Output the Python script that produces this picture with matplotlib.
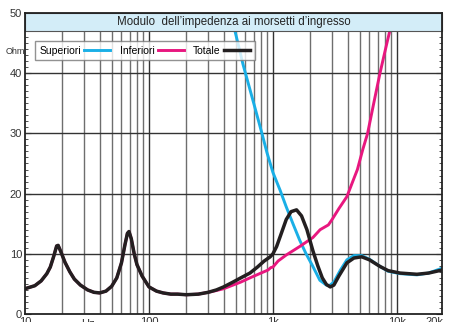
import matplotlib
matplotlib.use("Agg")
import matplotlib.pyplot as plt
from matplotlib.patches import Rectangle

# frequency (Hz) / impedance (Ohm)
freq_tot = [10, 12, 13.5, 15, 16, 17, 18, 18.5, 19.5, 21, 23, 25, 28, 32, 36, 40, 45, 50,
            55, 60, 64, 67, 69, 72, 76, 80, 88, 100, 115, 130, 150, 170, 200, 250, 300,
            350, 400, 476, 550, 652, 750, 850, 950, 1000, 1070, 1150, 1280, 1400, 1550,
            1700, 1880, 2100, 2300, 2500, 2700, 2900, 3100, 3400, 3950, 4500, 5200, 6000,
            7300, 8500, 10600, 14500, 18000, 23100]
imp_tot = [4.2, 4.7, 5.5, 6.7, 7.8, 9.5, 11.3, 11.4, 10.3, 8.6, 7.0, 5.8, 4.8, 4.0, 3.6, 3.5,
           3.8, 4.6, 6.0, 8.5, 11.5, 13.4, 13.7, 12.5, 10.0, 8.2, 6.3, 4.5, 3.8, 3.5, 3.3,
           3.3, 3.2, 3.3, 3.6, 4.0, 4.5, 5.3, 6.0, 6.8, 7.8, 8.8, 9.5, 10.0, 11.2, 13.0,
           15.7, 17.0, 17.3, 16.3, 14.0, 10.5, 8.0, 6.0, 4.9, 4.5, 4.8, 6.3, 8.5, 9.3, 9.5,
           9.0, 7.9, 7.2, 6.8, 6.6, 6.8, 7.3]

freq_inf = freq_tot[:35] + [350, 400, 476, 550, 652, 800, 912, 960, 1000, 1100, 1280, 1640,
                            2100, 2400, 2800, 3000, 3400, 3950, 4400, 4800, 5300, 5800,
                            6500, 7300, 8300, 8800, 9500]
imp_inf = imp_tot[:35] + [3.9, 4.2, 4.8, 5.3, 6.0, 6.8, 7.3, 7.7, 7.8, 8.8, 9.8, 11.2,
                          12.7, 14.0, 14.8, 15.7, 17.5, 19.5, 22.0, 24.0, 27.3, 30.0,
                          35.0, 40.0, 45.0, 47.2, 50.5]

freq_sup = [430, 494, 573, 700, 815, 895, 1000, 1140, 1280, 1450, 1640, 1850, 2100, 2390,
            2700, 2850, 3100, 3500, 3950, 4500, 5200, 6000, 7300, 8500, 10600, 14500,
            18000, 23100]
imp_sup = [52, 47, 41.5, 35, 30, 26.8, 23.5, 20.6, 17.8, 15, 12.3, 10, 7.9, 5.6, 4.8, 4.7,
           5.3, 7.3, 9.0, 9.7, 9.7, 9.1, 7.9, 7.1, 6.7, 6.5, 6.8, 7.6]

grid_minor = [20, 30, 40, 50, 60, 70, 80, 90, 200, 300, 400, 500, 600, 700, 800, 900,
              2000, 3000, 4000, 5000, 6000, 7000, 8000, 9000]
grid_major = [100, 1000, 10000]
xtick_pos = [10, 100, 1000, 10000, 20000]
xtick_lab = ["10", "100", "1k", "10k", "20k"]
ytick_pos = [0, 10, 20, 30, 40, 50]

plt.rcParams['font.family'] = ['Liberation Sans', 'DejaVu Sans']

fig = plt.figure(figsize=(4.59, 3.22), dpi=100)
ax = fig.add_axes([25 / 459, 8 / 322, 417 / 459, 301 / 322])
ax.set_xscale('log')
ax.set_xlim(10, 23100)
ax.set_ylim(0, 50)

for f in grid_minor:
    ax.axvline(f, color='#6e6e6e', lw=1.0, zorder=1)
for f in grid_major:
    ax.axvline(f, color='#333333', lw=1.0, zorder=1)
for v in [10, 20, 30, 40]:
    ax.axhline(v, color='#333333', lw=1.0, zorder=1)

ax.plot(freq_sup, imp_sup, color='#1aafe6', lw=2.1, label='Superiori', zorder=3,
        solid_joinstyle='round')
ax.plot(freq_inf, imp_inf, color='#e8177f', lw=2.1, label='Inferiori', zorder=3,
        solid_joinstyle='round')
ax.plot(freq_tot, imp_tot, color='#231f20', lw=2.5, label='Totale', zorder=4,
        solid_joinstyle='round')

# title band
ax.add_patch(Rectangle((0, 0.940), 1, 0.060, transform=ax.transAxes, facecolor='#d3edf8',
                       edgecolor='#555555', lw=0.8, zorder=6, clip_on=False))
ax.text(0.5, 0.970, "Modulo  dell\u2019impedenza ai morsetti d\u2019ingresso",
        transform=ax.transAxes, ha='center', va='center', fontsize=8.3, color='#222222',
        zorder=7)

leg = ax.legend(loc='upper left', bbox_to_anchor=(0.024, 0.907), borderaxespad=0,
                ncol=3, markerfirst=False, frameon=True, fancybox=False, fontsize=7.5,
                handlelength=2.5, handletextpad=0.3, columnspacing=0.9,
                borderpad=0.45, edgecolor='#777777')
leg.get_frame().set_linewidth(1.0)
leg.set_zorder(8)

ax.set_yticks(ytick_pos)
ax.set_yticks(range(0, 51), minor=True)
ax.set_xticks(xtick_pos)
ax.set_xticklabels(xtick_lab)
ax.xaxis.set_minor_locator(matplotlib.ticker.NullLocator())
ax.tick_params(axis='y', which='major', direction='in', length=4, width=0.8,
               labelsize=8, labelcolor='#333333', pad=2, right=True, color='#333333')
ax.tick_params(axis='y', which='minor', direction='in', length=2.5, width=0.6,
               right=True, color='#333333')
ax.tick_params(axis='x', which='major', length=0, labelsize=8, labelcolor='#333333',
               pad=2)
ax.text(32, -0.9, "Hz", ha='center', va='top', fontsize=8, color='#333333', clip_on=False)
fig.text(15 / 459, 1 - 51 / 322, "Ohm", ha='center', va='center', fontsize=6.5,
         color='#333333')

for s in ax.spines.values():
    s.set_color('#222222')
    s.set_linewidth(1.3)
    s.set_zorder(9)

fig.savefig('out.png', dpi=100)
